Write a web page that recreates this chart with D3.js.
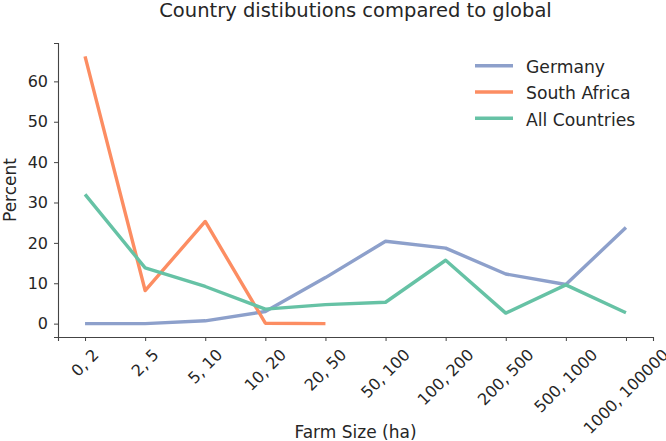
<!DOCTYPE html>
<html>
<head>
<meta charset="utf-8">
<script src="https://cdn.jsdelivr.net/npm/d3@7"></script>
<style>
  body { margin: 0; background: #fff; }
  text { font-family: "DejaVu Sans", sans-serif; fill: #262626; }
</style>
</head>
<body>
<svg id="chart" width="666" height="441"></svg>
<script>
// farm size buckets (ha)
const categories = ["0, 2", "2, 5", "5, 10", "10, 20", "20, 50", "50, 100",
    "100, 200", "200, 500", "500, 1000", "1000, 100000"];

const germany = [0, 0, 0.7, 3.0, 11.4, 20.4, 18.7, 12.3, 9.7, 23.8];
const southAfrica = [66.2, 8.2, 25.3, 0.1, 0.0];
const allCountries = [32.0, 13.8, 9.2, 3.6, 4.7, 5.3, 15.7, 2.6, 9.6, 2.7];

const yTicks = [0, 10, 20, 30, 40, 50, 60];

const series = [
    { name: "Germany", values: germany, color: "#8da0cb" },
    { name: "South Africa", values: southAfrica, color: "#fc8d62" },
    { name: "All Countries", values: allCountries, color: "#66c2a5" }
];

const mLeft = 58, mRight = 653, mTop = 43, mBottom = 337;

const svg = d3.select("#chart");

const x = d3.scaleLinear()
    .domain([-0.45, categories.length - 1 + 0.45])
    .range([mLeft, mRight]);

const y = d3.scaleLinear()
    .domain([-3.31, 69.5])
    .range([mBottom, mTop]);

// y axis
const yAxis = svg.append("g")
    .attr("transform", "translate(" + mLeft + ",0)")
    .call(d3.axisLeft(y).tickValues(yTicks).tickSize(4).tickPadding(6));
yAxis.select(".domain").attr("stroke", "#444").attr("stroke-width", 1.1);
yAxis.selectAll(".tick line").attr("stroke", "#444");
yAxis.selectAll("text").style("font-size", "16px").attr("fill", "#262626");

// x axis
const xAxis = svg.append("g")
    .attr("transform", "translate(0," + mBottom + ")")
    .call(d3.axisBottom(x).tickValues(d3.range(categories.length)).tickSize(4).tickFormat(""));
xAxis.select(".domain").attr("stroke", "#444").attr("stroke-width", 1.1);
xAxis.selectAll(".tick line").attr("stroke", "#444");

// rotated tick labels, bounding box centred under each tick
const labelTop = mBottom + 10;
const lbl = svg.append("g").selectAll("text")
    .data(categories)
    .enter()
    .append("text")
    .style("font-size", "16px")
    .attr("text-anchor", "middle")
    .attr("dominant-baseline", "central")
    .text(d => d);
lbl.each(function(d, i) {
    let w = this.getComputedTextLength();
    let h = 14;
    let cy = labelTop + (w + h) / (2 * Math.SQRT2);
    d3.select(this)
        .attr("x", x(i))
        .attr("y", cy)
        .attr("transform", "rotate(-45," + x(i) + "," + cy + ")");
});

// lines
const line = d3.line()
    .x((d, i) => x(i))
    .y(d => y(d));

svg.append("g").selectAll("path")
    .data(series)
    .enter()
    .append("path")
    .attr("d", d => line(d.values))
    .attr("fill", "none")
    .attr("stroke", d => d.color)
    .attr("stroke-width", 3.4)
    .attr("stroke-linejoin", "round");

// title and labels
svg.append("text")
    .attr("x", (mLeft + mRight) / 2)
    .attr("y", 16.5)
    .attr("text-anchor", "middle")
    .style("font-size", "19.5px")
    .text("Country distibutions compared to global");

svg.append("text")
    .attr("x", (mLeft + mRight) / 2)
    .attr("y", 438)
    .attr("text-anchor", "middle")
    .style("font-size", "17px")
    .text("Farm Size (ha)");

svg.append("text")
    .attr("transform", "translate(15.5," + (mTop + mBottom) / 2 + ") rotate(-90)")
    .attr("text-anchor", "middle")
    .style("font-size", "17px")
    .text("Percent");

// legend
const legend = svg.append("g").selectAll("g")
    .data(series)
    .enter()
    .append("g")
    .attr("transform", (d, i) => "translate(475," + (65.7 + i * 26.3) + ")");
legend.append("line")
    .attr("x1", 0).attr("x2", 38)
    .attr("stroke", d => d.color)
    .attr("stroke-width", 3.6);
legend.append("text")
    .attr("x", 51)
    .attr("dy", "0.42em")
    .style("font-size", "17.2px")
    .text(d => d.name);
</script>
</body>
</html>
